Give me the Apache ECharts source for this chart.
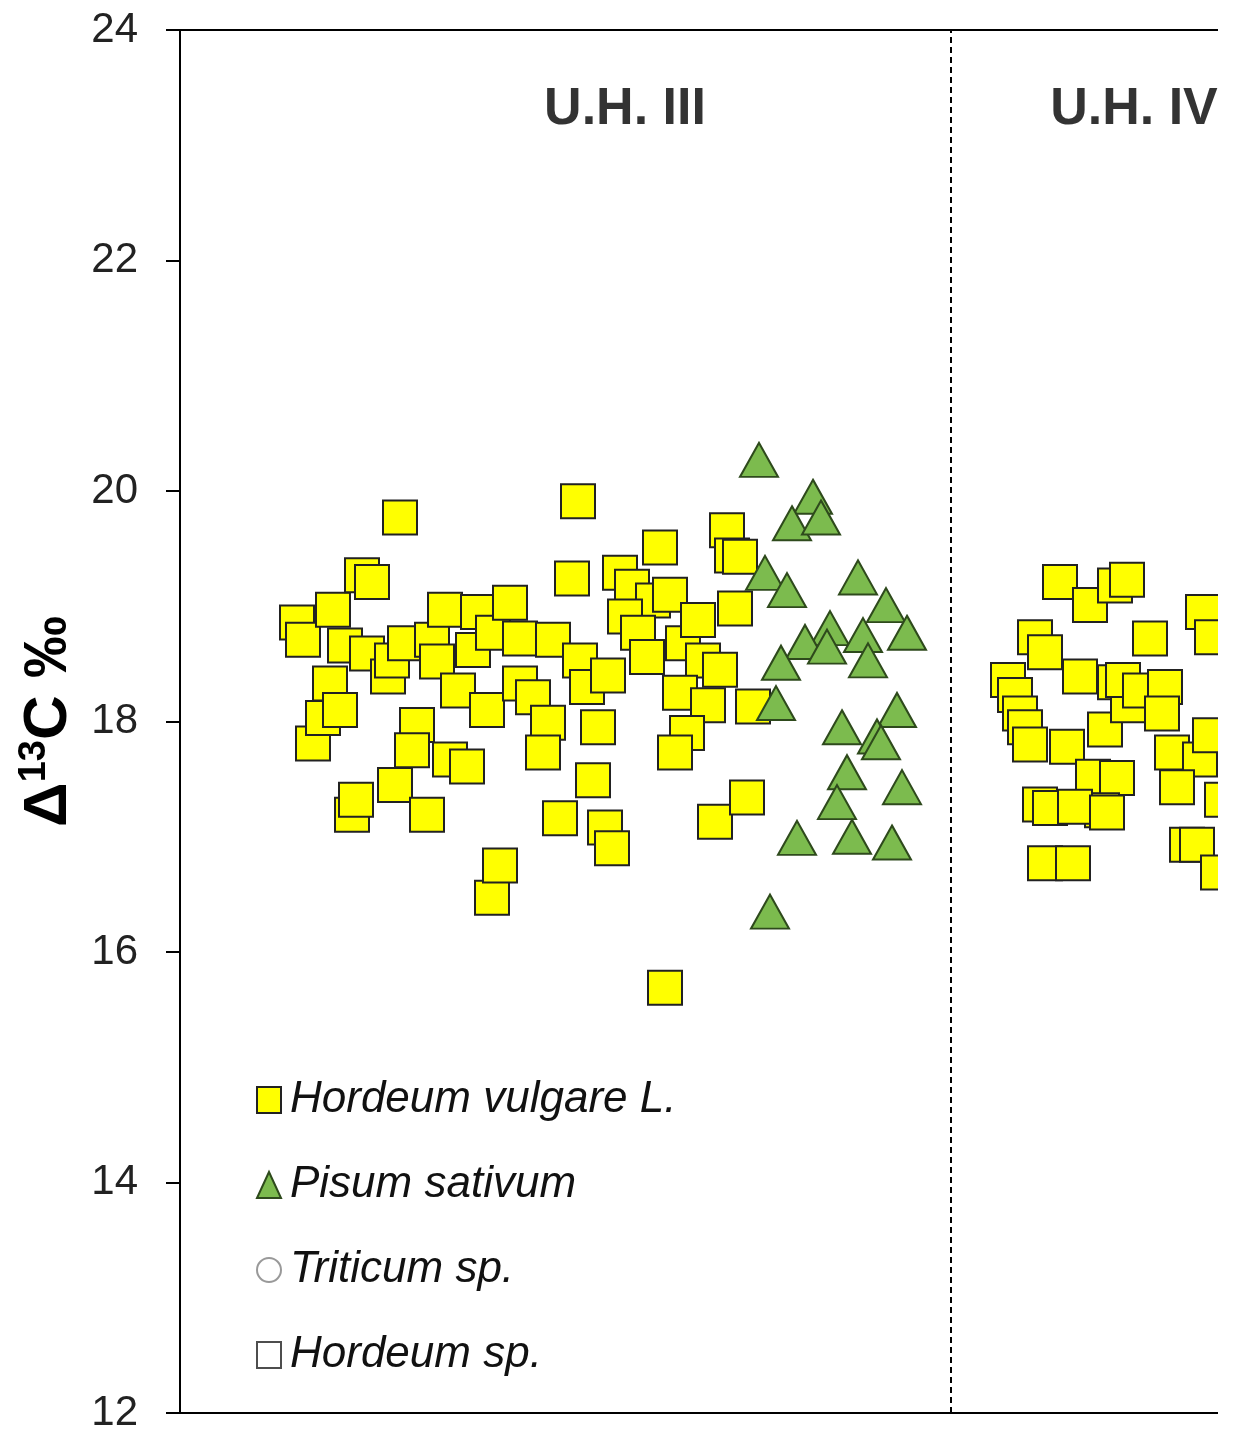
<!DOCTYPE html>
<html>
<head>
<meta charset="utf-8">
<script src="https://cdn.jsdelivr.net/npm/echarts@6/dist/echarts.min.js"></script>
<style>
html,body{margin:0;padding:0;background:#fff;}
#wrap{position:relative;width:1238px;height:1436px;background:#fff;overflow:hidden;}
#clip{position:absolute;left:0;top:0;width:1218px;height:1436px;overflow:hidden;}
#chart{position:absolute;left:0;top:0;width:1600px;height:1436px;}
</style>
</head>
<body>
<div id="wrap"><div id="clip"><div id="chart"></div></div></div>
<script>
// Y axis ticks
const yTicks = [12, 14, 16, 18, 20, 22, 24];
// Phase boundaries (x position of dashed separators)
const dividers = [77.1];
// Phase labels
const phaseLabels = [
  {name: 'U.H. III', x: 44.5, y: 23.31},
  {name: 'U.H. IV', x: 95.4, y: 23.31}
];
// Hordeum vulgare L. (x = sample position, y = Δ13C ‰)
const hordeumVulgare = [
  [11.7,18.86],[12.3,18.71],[15.3,18.97],[18.2,19.27],[19.2,19.21],[22.0,19.77],[16.5,18.66],[18.7,18.59],
  [15.0,18.33],[13.3,17.81],[14.3,18.03],[16.0,18.10],[20.8,18.39],[21.2,18.53],[22.5,18.68],[17.2,17.19],
  [17.6,17.32],[21.5,17.45],[23.7,17.97],[23.2,17.75],[24.7,17.19],[25.2,18.71],[26.5,18.97],[25.7,18.52],
  [27.8,18.27],[27.0,17.67],[28.7,17.61],[29.3,18.62],[29.8,18.95],[31.3,18.77],[33.0,19.03],[34.0,18.72],
  [30.7,18.10],[31.2,16.47],[32.0,16.75],[34.0,18.33],[35.3,18.21],[36.8,17.99],[36.3,17.73],[37.3,18.71],
  [38.0,17.16],[39.8,19.91],[39.2,19.24],[40.0,18.53],[40.7,18.30],[42.8,18.40],[41.8,17.95],[41.3,17.49],
  [42.5,17.08],[43.2,16.90],[44.0,19.29],[45.2,19.17],[47.3,19.05],[49.0,19.10],[44.5,18.91],[45.8,18.77],
  [46.7,18.56],[48.0,19.51],[50.3,18.68],[52.3,18.53],[54.0,18.45],[50.0,18.25],[52.8,18.14],[50.7,17.90],
  [49.5,17.73],[51.8,18.88],[55.5,18.98],[54.7,19.66],[55.2,19.44],[56.0,19.43],[53.5,17.13],[56.7,17.34],
  [57.3,18.13],[48.5,15.69],
  [88.0,19.21],[91.0,19.01],[93.5,19.18],[94.7,19.23],[85.5,18.73],[86.5,18.60],[90.0,18.39],[97.0,18.72],
  [82.8,18.36],[83.5,18.23],[84.0,18.07],[84.5,17.95],[85.0,17.80],[88.7,17.78],[92.5,17.93],[93.5,18.34],
  [94.8,18.14],[94.3,18.36],[96.0,18.27],[98.5,18.30],[98.2,18.07],[102.3,18.95],[103.2,18.73],[99.2,17.73],
  [102.0,17.67],[103.0,17.88],[99.7,17.43],[91.3,17.52],[93.7,17.51],[92.2,17.23],[86.0,17.28],[87.0,17.25],
  [89.5,17.26],[86.5,16.77],[89.3,16.77],[100.7,16.93],[101.7,16.93],[103.8,16.69],[104.2,17.32],[92.7,17.21]
];
// Pisum sativum
const pisumSativum = [
  [57.9,20.27],[63.3,19.95],[61.2,19.72],[64.1,19.77],[58.5,19.29],[60.7,19.14],[67.8,19.25],[70.6,19.01],
  [72.7,18.77],[65.0,18.81],[62.5,18.69],[64.7,18.65],[68.3,18.75],[68.8,18.53],[60.1,18.51],[59.6,18.16],
  [71.7,18.10],[66.2,17.95],[69.7,17.87],[70.1,17.82],[66.7,17.56],[72.2,17.43],[65.7,17.30],[61.7,16.99],
  [67.2,17.00],[71.2,16.95],[59.0,16.35]
];
// Triticum sp. (none visible in this panel)
const triticum = [];
// Hordeum sp. (none visible in this panel)
const hordeumSp = [];

const FONT = '"Liberation Sans", Arial, sans-serif';
const chart = echarts.init(document.getElementById('chart'));
chart.setOption({
  backgroundColor: '#fff',
  animation: false,
  grid: {left: 180, top: 30, right: 20, bottom: 23, containLabel: false, outerBoundsMode: 'none',
         show: true, borderColor: '#000', borderWidth: 2},
  xAxis: {
    type: 'value', min: 0, max: 140,
    axisLine: {show: true, lineStyle: {color: '#000', width: 2}},
    axisTick: {show: false}, axisLabel: {show: false}, splitLine: {show: false}
  },
  yAxis: {
    type: 'value', min: yTicks[0], max: yTicks[yTicks.length - 1], interval: 2,
    axisLine: {show: true, lineStyle: {color: '#000', width: 2}},
    axisTick: {show: true, inside: false, length: 14, lineStyle: {color: '#000', width: 2}},
    axisLabel: {fontSize: 42, color: '#222', fontFamily: FONT, margin: 42},
    splitLine: {show: false},
    name: '{a|Δ}{b|13}{a|C ‰}',
    nameLocation: 'middle', nameRotate: 90, nameGap: 98,
    nameTextStyle: {
      rich: {
        a: {fontSize: 62, fontWeight: 'bold', fontFamily: FONT, color: '#000', lineHeight: 66},
        b: {fontSize: 38, fontWeight: 'bold', fontFamily: FONT, color: '#000', verticalAlign: 'top', lineHeight: 66, padding: [0, 0, 20, 0]}
      }
    }
  },
  legend: {
    orient: 'vertical', left: 251, top: 1070,
    itemWidth: 24, itemHeight: 26, itemGap: 35,
    textStyle: {fontSize: 44, fontStyle: 'italic', fontFamily: FONT, color: '#111', lineHeight: 50, padding: [0, 0, 0, 4]},
    data: [
      {name: 'Hordeum vulgare L.', icon: 'rect'},
      {name: 'Pisum sativum', icon: 'triangle'},
      {name: 'Triticum sp.', icon: 'circle'},
      {name: 'Hordeum sp.', icon: 'rect'}
    ]
  },
  series: [
    {
      name: 'Hordeum vulgare L.', type: 'scatter', symbol: 'rect', symbolSize: 34,
      itemStyle: {color: '#FFFF00', borderColor: '#222', borderWidth: 2, opacity: 1},
      data: hordeumVulgare,
      markLine: {
        silent: true, symbol: ['none', 'none'], label: {show: false},
        lineStyle: {type: [6, 4], color: '#000', width: 2},
        data: dividers.map(v => ({xAxis: v}))
      }
    },
    {
      name: 'Pisum sativum', type: 'scatter', symbol: 'triangle', symbolSize: [38, 34],
      itemStyle: {color: '#7CBB4E', borderColor: '#2E4A1C', borderWidth: 2, opacity: 1},
      data: pisumSativum
    },
    {
      name: 'Triticum sp.', type: 'scatter', symbol: 'circle', symbolSize: 22,
      itemStyle: {color: '#fff', borderColor: '#808080', borderWidth: 2},
      data: triticum
    },
    {
      name: 'Hordeum sp.', type: 'scatter', symbol: 'rect', symbolSize: 22,
      itemStyle: {color: '#fff', borderColor: '#222', borderWidth: 2},
      data: hordeumSp
    },
    {
      name: 'phases', type: 'scatter', symbolSize: 0, silent: true,
      label: {show: true, position: 'inside', formatter: p => '{t|' + p.name + '}',
              rich: {t: {fontSize: 52, fontWeight: 'bold', fontFamily: FONT, color: '#000'}}},
      data: phaseLabels.map(d => ({name: d.name, value: [d.x, d.y]}))
    }
  ]
});
</script>
</body>
</html>
